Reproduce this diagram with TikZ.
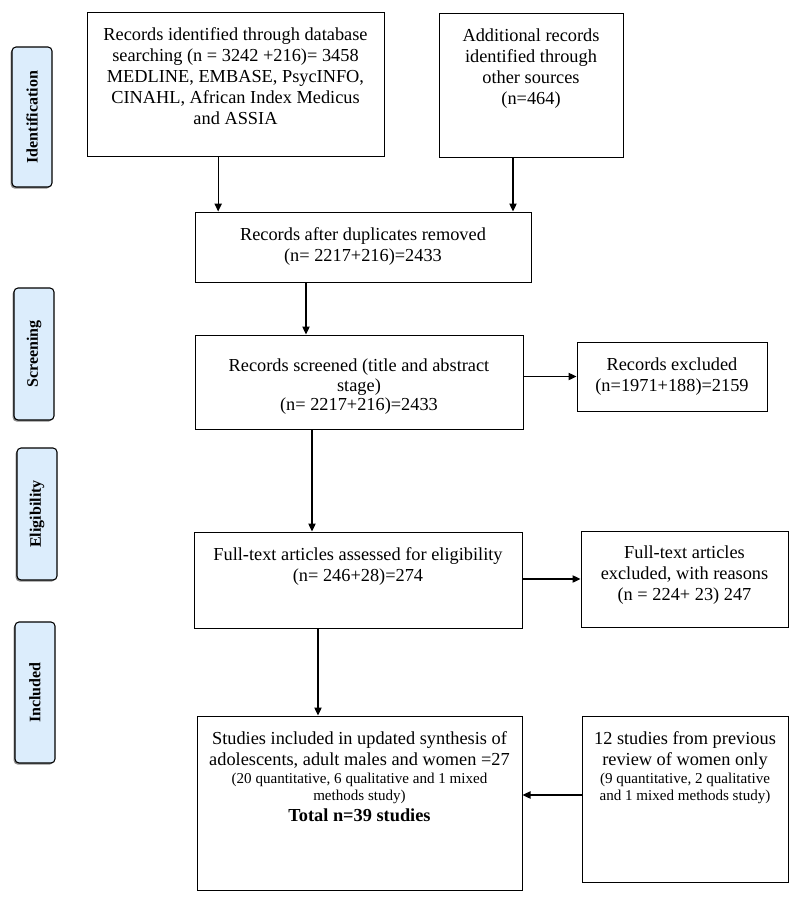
\documentclass[tikz,border=0pt]{standalone}
\usepackage{fontspec}
\setmainfont{Liberation Serif}
\usetikzlibrary{arrows.meta,shadows}

\definecolor{stagefill}{RGB}{220,237,252}

\newcommand{\bigfont}{\fontsize{13.75pt}{15.75pt}\selectfont}
\newcommand{\smallfont}{\fontsize{11.3pt}{13.1pt}\selectfont}
\newcommand{\boxtext}[4]{\parbox[c][#2][t]{#1}{\centering\vspace*{#3}#4\par}}

\begin{document}
\begin{tikzpicture}[x=0.75pt,y=-0.75pt,
		stage/.style={draw, fill=stagefill, rounded corners=3pt, rotate=90, minimum height=30pt, inner sep=0pt, line width=0.8pt, font=\fontsize{12pt}{14pt}\selectfont\bfseries, general shadow={fill=black!45, shadow xshift=-1pt, shadow yshift=-1.2pt}},
		entry/.style={draw, inner sep=0pt, line width=0.75pt, font=\bigfont},
		arrow/.style={-{Triangle[length=6pt,width=5.5pt]}, line width=0.9pt}]
	\useasboundingbox (0,0) rectangle (800,911);
	\node[stage, minimum width=105pt] (idlbl) at (32,117) {Identification};
	\node[stage, minimum width=99pt] (scrlbl) at (34,354) {Screening};
	\node[stage, minimum width=99pt] (elglbl) at (37,514) {Eligibility};
	\node[stage, minimum width=105.75pt] (inclbl) at (35,692.5) {Included};
	\node[entry] (db) at (235.5,84) {\boxtext{222.75pt}{108pt}{12pt}{Records identified through database\\ searching (n = 3242 +216)= 3458\\ MEDLINE, EMBASE, PsycINFO,\\ CINAHL, African Index Medicus\\ and ASSIA}};
	\node[entry] (other) at (531,85) {\boxtext{138pt}{108pt}{12pt}{Additional records\\ identified through\\ other sources\\ (n=464)}};
	\node[entry] (dupl) at (363,247) {\boxtext{252pt}{52.5pt}{12pt}{Records after duplicates removed\\ (n= 2217+216)=2433}};
	\node[entry] (screen) at (359,382) {\boxtext{246pt}{70.5pt}{18pt}{\fontsize{13.75pt}{14.5pt}\selectfont Records screened (title and abstract\\ stage)\\ (n= 2217+216)=2433}};
	\node[entry] (excl) at (672,376.5) {\boxtext{142.5pt}{51.75pt}{12pt}{Records excluded\\ (n=1971+188)=2159}};
	\node[entry] (full) at (358,580) {\boxtext{246pt}{72pt}{12pt}{Full-text articles assessed for eligibility\\ (n= 246+28)=274}};
	\node[entry] (fullexcl) at (684.5,579) {\boxtext{155.25pt}{72pt}{11pt}{Full-text articles\\ excluded, with reasons\\ (n = 224+ 23) 247}};
	\node[entry] (incl) at (359.5,803) {\boxtext{243.75pt}{130.5pt}{12pt}{Studies included in updated synthesis of\\ adolescents, adult males and women =27\par
		{\smallfont (20 quantitative, 6 qualitative and 1 mixed\\ methods study)\par}
		\textbf{Total n=39 studies}}};
	\node[entry] (prev) at (685,799) {\boxtext{154.5pt}{124.5pt}{12pt}{12 studies from previous\\ review of women only\par
		{\smallfont (9 quantitative, 2 qualitative\\ and 1 mixed methods study)\par}}};
	\draw[arrow] ([xshift=-13pt]db.south) -- ([xshift=-13pt]db.south |- dupl.north);
	\draw[arrow] ([xshift=-13.5pt]other.south) -- ([xshift=-13.5pt]other.south |- dupl.north);
	\draw[arrow] ([xshift=-42.75pt]dupl.south) -- ([xshift=-42.75pt]dupl.south |- screen.north);
	\draw[arrow] (excl.west -| screen.east) -- (excl.west);
	\draw[arrow] ([xshift=-35.25pt]screen.south) -- ([xshift=-35.25pt]screen.south |- full.north);
	\draw[arrow] (fullexcl.west -| full.east) -- (fullexcl.west);
	\draw[arrow] ([xshift=-30pt]full.south) -- ([xshift=-30pt]full.south |- incl.north);
	\draw[arrow] ([yshift=3pt]prev.west) -- ([yshift=3pt]prev.west -| incl.east);
\end{tikzpicture}
\end{document}
